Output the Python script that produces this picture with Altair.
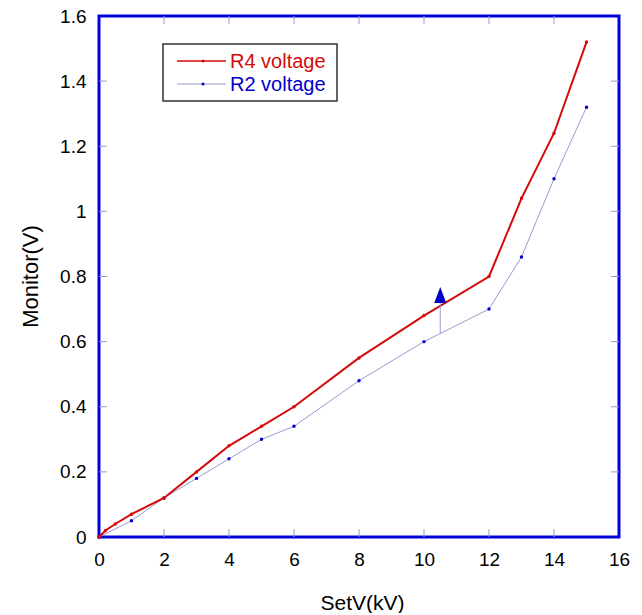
import altair as alt
import pandas as pd

# ---- data ----
setv_r4 = [0, 0.2, 0.5, 1, 2, 3, 4, 5, 6, 8, 10, 12, 13, 14, 15]
mon_r4 = [0, 0.02, 0.04, 0.07, 0.12, 0.2, 0.28, 0.34, 0.4, 0.55, 0.68, 0.8, 1.04, 1.24, 1.52]
setv_r2 = [0, 1, 2, 3, 4, 5, 6, 8, 10, 12, 13, 14, 15]
mon_r2 = [0, 0.05, 0.12, 0.18, 0.24, 0.3, 0.34, 0.48, 0.6, 0.7, 0.86, 1.1, 1.32]
series_names = ["R4 voltage", "R2 voltage"]
x_ticks = [0, 2, 4, 6, 8, 10, 12, 14, 16]
y_ticks = [0, 0.2, 0.4, 0.6, 0.8, 1.0, 1.2, 1.4, 1.6]
inner_x_ticks = [2, 4, 6, 8, 10, 12, 14]
inner_y_ticks = [0.2, 0.4, 0.6, 0.8, 1.0, 1.2, 1.4]
arrow_x = [10.5]
arrow_y0 = [0.625]
arrow_y1 = [0.72]
arrow_head_y = [0.743]

RED = "#d40a0a"
BLUE = "#0000cc"
LAV = "#9a9ad0"
FRAME = "#0000dd"
FONT = "Liberation Sans"

W, H = 520, 521

xs = alt.Scale(domain=[0, 16], nice=False, zero=False)
ys = alt.Scale(domain=[0, 1.6], nice=False, zero=False)

X = alt.X("x:Q", scale=xs, axis=alt.Axis(
    values=x_ticks, format="d", title="SetV(kV)", ticks=False, domain=False,
    grid=False, labelPadding=13, labelFontSize=19, labelFlush=False, titleFontSize=21,
    titleFontWeight="normal", titleX=263, titleY=66, titleBaseline="middle"))
Y = alt.Y("y:Q", scale=ys, axis=alt.Axis(
    values=y_ticks, format="~g", title="Monitor(V)", ticks=False, domain=False,
    grid=False, labelPadding=13, labelFontSize=19, labelFlush=False, titleFontSize=22,
    titleFontWeight="normal", titleX=-69, titleY=260, titleBaseline="middle"))

r4 = pd.DataFrame({"x": setv_r4, "y": mon_r4})
r2 = pd.DataFrame({"x": setv_r2, "y": mon_r2})
xt = pd.DataFrame({"x": inner_x_ticks})
yt = pd.DataFrame({"y": inner_y_ticks})
arrow = pd.DataFrame({"x": arrow_x, "y": arrow_y0, "y2": arrow_y1, "yh": arrow_head_y})
one = pd.DataFrame({"k": [0]})
leg1 = pd.DataFrame({"name": [series_names[0]]})
leg2 = pd.DataFrame({"name": [series_names[1]]})

tick_col = LAV
tb = alt.Chart(xt).mark_rule(color=tick_col, strokeWidth=1).encode(x=X, y=alt.value(H), y2=alt.value(H - 8))
tt = alt.Chart(xt).mark_rule(color=tick_col, strokeWidth=1).encode(x=X, y=alt.value(0), y2=alt.value(8))
tl = alt.Chart(yt).mark_rule(color=tick_col, strokeWidth=1).encode(y=Y, x=alt.value(0), x2=alt.value(8))
tr = alt.Chart(yt).mark_rule(color=tick_col, strokeWidth=1).encode(y=Y, x=alt.value(W - 8), x2=alt.value(W))

l2 = alt.Chart(r2).mark_line(color=LAV, strokeWidth=1).encode(x=X, y=Y)
p2 = alt.Chart(r2).mark_point(color=BLUE, filled=True, size=12, opacity=1).encode(x=X, y=Y)
l4 = alt.Chart(r4).mark_line(color=RED, strokeWidth=2).encode(x=X, y=Y)
p4 = alt.Chart(r4).mark_point(color=RED, filled=True, size=12, opacity=1).encode(x=X, y=Y)

ar = alt.Chart(arrow).mark_rule(color=LAV, strokeWidth=1).encode(x=X, y=Y, y2="y2:Q")
ah = alt.Chart(arrow).mark_point(shape="M0,-1L0.75,1L-0.75,1Z", filled=True, color=BLUE,
                                 size=256, opacity=1).encode(
    x=X, y=alt.Y("yh:Q", scale=ys))

box = alt.Chart(one).mark_rect(fill="white", stroke="#333333", strokeWidth=1.5).encode(
    x=alt.value(64), x2=alt.value(238), y=alt.value(28), y2=alt.value(85))
lg1 = alt.Chart(one).mark_rule(color=RED, strokeWidth=1.5).encode(
    x=alt.value(78), x2=alt.value(127), y=alt.value(45))
lg2 = alt.Chart(one).mark_rule(color=LAV, strokeWidth=1).encode(
    x=alt.value(78), x2=alt.value(127), y=alt.value(68))
ld1 = alt.Chart(one).mark_point(color=RED, filled=True, size=9, opacity=1).encode(
    x=alt.value(104), y=alt.value(45))
ld2 = alt.Chart(one).mark_point(color=BLUE, filled=True, size=9, opacity=1).encode(
    x=alt.value(104), y=alt.value(68))
lt1 = alt.Chart(leg1).mark_text(align="left", baseline="middle", fontSize=20, font=FONT, color=RED).encode(
    x=alt.value(131), y=alt.value(46), text="name:N")
lt2 = alt.Chart(leg2).mark_text(align="left", baseline="middle", fontSize=20, font=FONT, color=BLUE).encode(
    x=alt.value(131), y=alt.value(69), text="name:N")

chart = alt.layer(
    tb, tt, tl, tr, l2, p2, l4, p4, ar, ah, box, lg1, lg2, ld1, ld2, lt1, lt2
).properties(
    width=W, height=H,
    autosize=alt.AutoSizeParams(type="none"),
    padding={"left": 91, "top": 8, "right": 12, "bottom": 76},
    background="white",
).configure_view(
    stroke=FRAME, strokeWidth=3
).configure_axis(
    labelFont=FONT, titleFont=FONT, labelColor="black", titleColor="black"
)

chart.save("out.html", embed_options={"renderer": "svg", "actions": False})
